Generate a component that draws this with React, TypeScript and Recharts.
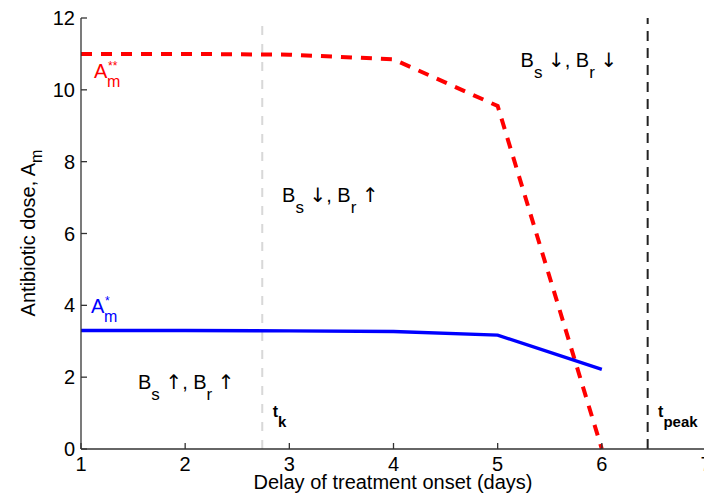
import React from 'react';
import { LineChart, Line, XAxis, YAxis, ReferenceLine, ReferenceDot, Label } from 'recharts';

const delays = [1, 2, 3, 4, 5, 6];
const doseDoubleStar = [11, 11, 10.98, 10.85, 9.55, 0];
const doseStar = [3.3, 3.3, 3.29, 3.27, 3.17, 2.22];
const xTicks = [1, 2, 3, 4, 5, 6, 7];
const yTicks = [0, 2, 4, 6, 8, 10, 12];
const tK = 2.74;
const tPeak = 6.44;

const data = delays.map((d, i) => ({ d, a2: doseDoubleStar[i], a1: doseStar[i] }));

const FONT = '"Liberation Sans", Arial, Helvetica, sans-serif';
const ARROW_FONT = '"DejaVu Sans", sans-serif';

const BText = ({ cx, cy, s, r }: any) => (
  <text x={cx} y={cy} fontFamily={FONT} fontSize={20} fill="#000">
    B<tspan dy={11} fontSize={17}>s</tspan>
    <tspan dy={-11}> </tspan>
    <tspan fontFamily={ARROW_FONT} fontSize={20}>{s}</tspan>
    <tspan>, B</tspan>
    <tspan dy={11} fontSize={17}>r</tspan>
    <tspan dy={-11}> </tspan>
    <tspan fontFamily={ARROW_FONT} fontSize={20}>{r}</tspan>
  </text>
);

const AText = ({ cx, cy, color, star }: any) => (
  <g fontFamily={FONT} fill={color}>
    <text x={cx} y={cy} fontSize={20}>A</text>
    <text x={cx + 13} y={cy + 9} fontSize={16}>m</text>
    <text x={cx + 14} y={cy - 8} fontSize={12}>{star}</text>
  </g>
);

const TText = ({ cx, cy, sub }: any) => (
  <text x={cx} y={cy} fontFamily={FONT} fontSize={16} fontWeight="bold" fill="#000">
    t<tspan dy={10} fontSize={15}>{sub}</tspan>
  </text>
);

const axisColor = '#333';

export default function App() {
  return (
    <div style={{ position: 'absolute', left: 0, top: 0, width: 704, height: 501, overflow: 'hidden', background: '#fff' }}>
      <LineChart width={712} height={501} data={data} margin={{ top: 18, right: 6, left: 8, bottom: 22 }}>
        <XAxis
          xAxisId="x"
          dataKey="d"
          type="number"
          domain={[1, 7]}
          ticks={xTicks}
          allowDataOverflow
          height={30}
          tickSize={-6}
          tickMargin={14}
          stroke={axisColor}
          strokeWidth={1.3}
          tick={{ fontSize: 20, fill: '#000', fontFamily: FONT }}
        >
          <Label
            content={() => (
              <text x={393} y={489} textAnchor="middle" fontFamily={FONT} fontSize={20} fill="#000">
                Delay of treatment onset (days)
              </text>
            )}
          />
        </XAxis>
        <XAxis
          xAxisId="xt"
          orientation="top"
          type="number"
          domain={[1, 7]}
          ticks={xTicks}
          allowDataOverflow
          height={0}
          tickSize={-6}
          tick={false}
          stroke={axisColor}
          strokeWidth={1.3}
        />
        <YAxis
          yAxisId="y"
          type="number"
          domain={[0, 12]}
          ticks={yTicks}
          width={73}
          tickSize={-6}
          tickMargin={12}
          stroke={axisColor}
          strokeWidth={1.3}
          tick={{ fontSize: 20, fill: '#000', fontFamily: FONT }}
        >
          <Label
            content={() => (
              <text
                x={35}
                y={233}
                transform="rotate(-90, 35, 233)"
                textAnchor="middle"
                fontFamily={FONT}
                fontSize={20}
                fill="#000"
              >
                Antibiotic dose, A<tspan dy={7} fontSize={16}>m</tspan>
              </text>
            )}
          />
        </YAxis>
        <YAxis
          yAxisId="yr"
          orientation="right"
          type="number"
          domain={[0, 12]}
          ticks={yTicks}
          width={0}
          tickSize={-6}
          tick={false}
          stroke={axisColor}
          strokeWidth={1.3}
        />
        <ReferenceLine xAxisId="x" yAxisId="y" x={tK} stroke="#d8d8d8" strokeWidth={2} strokeDasharray="9 9" />
        <ReferenceLine xAxisId="x" yAxisId="y" x={tPeak} stroke="#222" strokeWidth={2} strokeDasharray="10 7" />
        <Line
          xAxisId="x"
          yAxisId="y"
          type="linear"
          dataKey="a2"
          stroke="#ff0000"
          strokeWidth={4}
          strokeDasharray="11 9"
          dot={false}
          isAnimationActive={false}
        />
        <Line
          xAxisId="x"
          yAxisId="y"
          type="linear"
          dataKey="a1"
          stroke="#0000ff"
          strokeWidth={3.4}
          dot={false}
          isAnimationActive={false}
        />
        <ReferenceDot xAxisId="x" yAxisId="y" x={1.125} y={10.34} r={0} shape={(p: any) => <AText {...p} color="#ff0000" star="**" />} />
        <ReferenceDot xAxisId="x" yAxisId="y" x={1.096} y={3.8} r={0} shape={(p: any) => <AText {...p} color="#0000ff" star="*" />} />
        <ReferenceDot xAxisId="x" yAxisId="y" x={1.547} y={1.68} r={0} shape={(p: any) => <BText {...p} s="↑" r="↑" />} />
        <ReferenceDot xAxisId="x" yAxisId="y" x={2.93} y={6.87} r={0} shape={(p: any) => <BText {...p} s="↓" r="↑" />} />
        <ReferenceDot xAxisId="x" yAxisId="y" x={5.22} y={10.64} r={0} shape={(p: any) => <BText {...p} s="↓" r="↓" />} />
        <ReferenceDot xAxisId="x" yAxisId="y" x={2.84} y={0.89} r={0} shape={(p: any) => <TText {...p} sub="k" />} />
        <ReferenceDot xAxisId="x" yAxisId="y" x={6.54} y={0.89} r={0} shape={(p: any) => <TText {...p} sub="peak" />} />
      </LineChart>
    </div>
  );
}
